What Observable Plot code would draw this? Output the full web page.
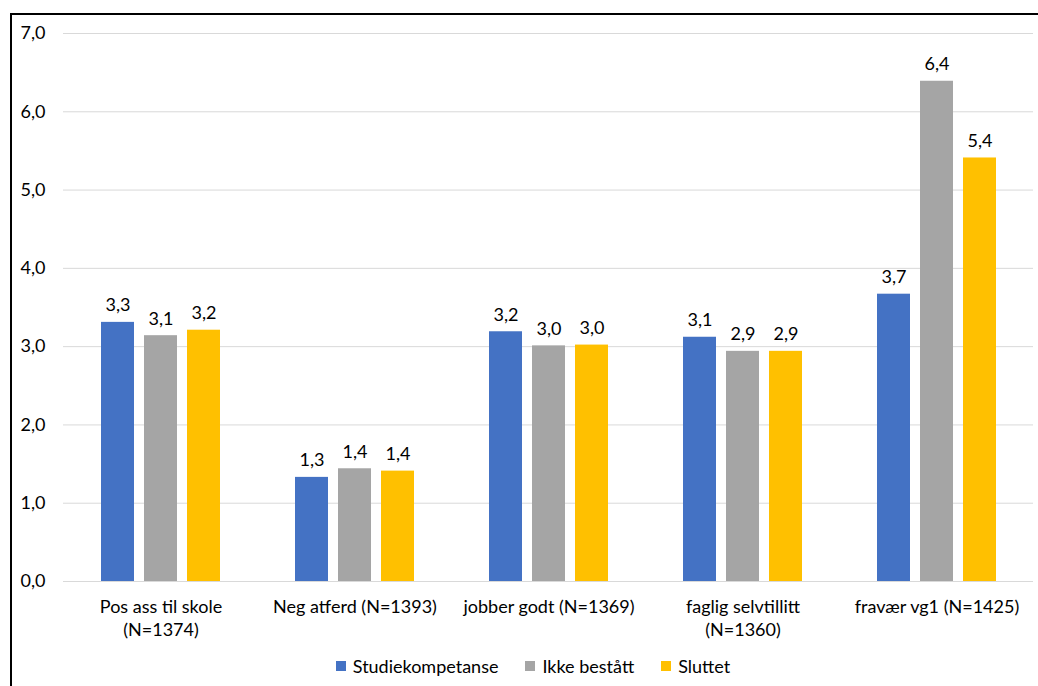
<!DOCTYPE html>
<html>
<head>
<meta charset="utf-8">
<script src="https://cdn.jsdelivr.net/npm/d3@7"></script>
<script src="https://cdn.jsdelivr.net/npm/@observablehq/plot@0.6"></script>
<style>
  html, body { margin: 0; padding: 0; background: #fff; overflow: hidden; }
  body { font-family: Lato, "Open Sans", sans-serif; width: 1038px; height: 686px; position: relative; }
  #frame { position: absolute; left: 10px; top: 13px; width: 1100px; height: 800px; border: 2px solid #000; box-sizing: border-box; }
  #chart { position: absolute; left: 0; top: 0; }
  #chart svg g, #chart svg text { font-size: 18px; }
  #legend { position: absolute; left: 0; top: 654px; width: 1038px; display: flex; justify-content: center; gap: 27px; font-size: 18px; line-height: 24px; color: #000; padding-left: 28px; box-sizing: border-box; }
  #legend .item { display: flex; align-items: center; gap: 7px; }
  #legend .sw { width: 10px; height: 10px; display: inline-block; }
</style>
</head>
<body>
<div id="frame"></div>
<div id="chart"></div>
<div id="legend"></div>
<script>
// Mean scores per outcome group
const categories = [
  "Pos ass til skole (N=1374)",
  "Neg atferd (N=1393)",
  "jobber godt (N=1369)",
  "faglig selvtillitt (N=1360)",
  "fravær vg1 (N=1425)"
];
const categoryLabels = [
  "Pos ass til skole\n(N=1374)",
  "Neg atferd (N=1393)",
  "jobber godt (N=1369)",
  "faglig selvtillitt\n(N=1360)",
  "fravær vg1 (N=1425)"
];
const series = ["Studiekompetanse", "Ikke bestått", "Sluttet"];
const studiekompetanse = [3.31, 1.33, 3.19, 3.12, 3.67];
const ikkeBestatt = [3.14, 1.44, 3.01, 2.94, 6.39];
const sluttet = [3.21, 1.41, 3.02, 2.94, 5.41];
const colors = ["#4472C4", "#A5A5A5", "#FFC000"];
const yTicks = [0, 1, 2, 3, 4, 5, 6, 7];

const valuesBySeries = [studiekompetanse, ikkeBestatt, sluttet];
const offsets = [-43, 0, 43]; // bar step within a category group

const fmt = v => d3.format(".1f")(v).replace(".", ",");
const labelOf = new Map(categories.map((c, i) => [c, categoryLabels[i]]));

const seriesMarks = valuesBySeries.flatMap((vals, j) => {
  const data = categories.map((c, i) => ({category: c, series: series[j], value: vals[i]}));
  return [
    Plot.barY(data, { x: "category", y: "value", fill: colors[j], dx: offsets[j] }),
    Plot.text(data, { x: "category", y: "value", text: d => fmt(d.value), dx: offsets[j], dy: -11, lineAnchor: "bottom", fill: "#000" })
  ];
});

const chart = Plot.plot({
  width: 1038,
  height: 645,
  marginLeft: 63,
  marginRight: 5,
  marginTop: 33,
  marginBottom: 64,
  style: { fontFamily: "Lato, 'Open Sans', sans-serif", fontSize: "18px", color: "#000", background: "transparent", overflow: "visible" },
  x: { domain: categories, paddingInner: 0.83, paddingOuter: 0.415, label: null },
  y: { domain: [0, 7], label: null },
  marks: [
    Plot.gridY(yTicks, { stroke: "#d9d9d9", strokeOpacity: 1, strokeWidth: 1 }),
    Plot.axisY(yTicks, { tickSize: 0, tickPadding: 18, tickFormat: fmt, label: null }),
    Plot.axisX({ tickSize: 0, tickPadding: 14, tickFormat: d => labelOf.get(d), label: null, lineHeight: 1.33 }),
    ...seriesMarks
  ]
});
document.getElementById("chart").appendChild(chart);

const legend = document.getElementById("legend");
series.forEach((s, i) => {
  const item = document.createElement("span");
  item.className = "item";
  const sw = document.createElement("span");
  sw.className = "sw";
  sw.style.background = colors[i];
  item.appendChild(sw);
  item.appendChild(document.createTextNode(s));
  legend.appendChild(item);
});
</script>
</body>
</html>
